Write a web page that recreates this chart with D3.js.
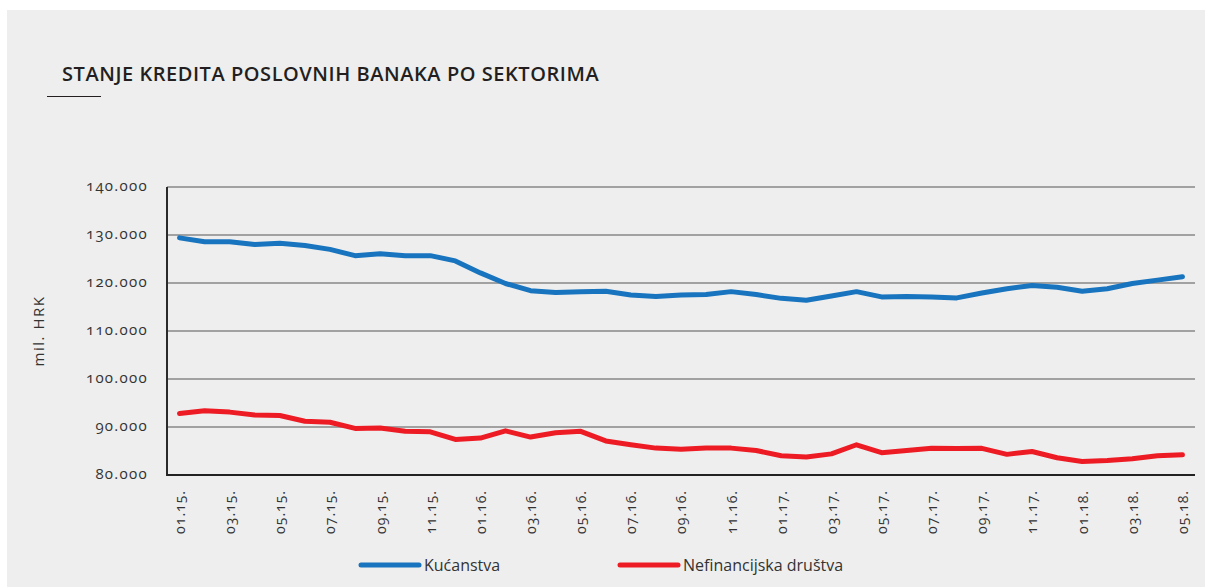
<!DOCTYPE html>
<html>
<head>
<meta charset="utf-8">
<script src="https://cdn.jsdelivr.net/npm/d3@7"></script>
<style>
  html, body { margin: 0; padding: 0; background: #ffffff; }
  svg { display: block; }
  .num { font-feature-settings: "onum" 1; font-variant-numeric: oldstyle-nums; }
</style>
</head>
<body>
<svg id="chart" width="1205" height="587"></svg>
<script>
const categories = ["01.15.","02.15.","03.15.","04.15.","05.15.","06.15.","07.15.","08.15.","09.15.","10.15.","11.15.","12.15.",
  "01.16.","02.16.","03.16.","04.16.","05.16.","06.16.","07.16.","08.16.","09.16.","10.16.","11.16.","12.16.",
  "01.17.","02.17.","03.17.","04.17.","05.17.","06.17.","07.17.","08.17.","09.17.","10.17.","11.17.","12.17.",
  "01.18.","02.18.","03.18.","04.18.","05.18."];
const kucanstva = [129400,128600,128600,128000,128300,127800,127000,125700,126100,125700,125700,124600,
  122100,119900,118400,118000,118200,118300,117500,117200,117500,117600,118200,117600,
  116800,116400,117300,118200,117100,117200,117100,116900,117900,118800,119500,119100,
  118300,118800,119900,120600,121300];
const nefinancijska = [92800,93400,93100,92500,92400,91200,91000,89700,89800,89100,89000,87400,
  87700,89200,87900,88800,89100,87100,86300,85600,85350,85600,85600,85100,
  84000,83750,84400,86300,84650,85100,85550,85500,85550,84300,84900,83600,
  82800,83000,83400,84000,84200];
const yTicks = [80000,90000,100000,110000,120000,130000,140000];
const xTickLabels = categories.filter((d, i) => i % 2 === 0);
const seriesNames = ["Kućanstva", "Nefinancijska društva"];
const seriesColors = ["#1874be", "#ed1c24"];

const svg = d3.select("#chart");
const W = 1205, H = 587;
const L = 167, R = 1195, T = 187, B = 475;
const FONT = "'Open Sans', sans-serif";

svg.append("rect").attr("x", 7).attr("y", 10).attr("width", W - 7).attr("height", H - 10).attr("fill", "#eeeeee");

svg.append("text").attr("x", 62).attr("y", 81)
  .attr("font-family", FONT).attr("font-weight", 600)
  .attr("font-size", 20).attr("letter-spacing", 0.55).attr("fill", "#231f20")
  .text("STANJE KREDITA POSLOVNIH BANAKA PO SEKTORIMA");
svg.append("line").attr("x1", 47).attr("x2", 101).attr("y1", 96.5).attr("y2", 96.5)
  .attr("stroke", "#231f20").attr("stroke-width", 1);

const x = d3.scalePoint().domain(categories).range([L, R]).padding(0.5);
const y = d3.scaleLinear().domain([80000, 140000]).range([B, T]);

// gridlines
svg.append("g").selectAll("line").data(yTicks.filter(d => d !== 80000)).join("line")
  .attr("x1", L).attr("x2", R).attr("y1", d => y(d)).attr("y2", d => y(d))
  .attr("stroke", "#555555").attr("stroke-width", 1.2);

const fmt = v => d3.format(",")(v).replace(/,/g, ".");

const yAxis = svg.append("g").attr("transform", `translate(${L},0)`)
  .call(d3.axisLeft(y).tickValues(yTicks).tickSize(0).tickPadding(19).tickFormat(fmt));
yAxis.select(".domain").remove();
yAxis.selectAll("text").attr("class", "num")
  .attr("font-family", FONT).attr("font-size", 15).attr("letter-spacing", 1.3).attr("fill", "#333333")
  .attr("dy", "0.2em");

// axis lines
svg.append("line").attr("x1", L).attr("x2", L).attr("y1", T).attr("y2", B + 1)
  .attr("stroke", "#2a2a2a").attr("stroke-width", 2);
svg.append("line").attr("x1", L).attr("x2", R).attr("y1", B).attr("y2", B)
  .attr("stroke", "#222222").attr("stroke-width", 2);

const xAxis = svg.append("g").attr("transform", `translate(0,${B})`)
  .call(d3.axisBottom(x).tickValues(xTickLabels).tickSize(0).tickPadding(0));
xAxis.select(".domain").remove();
xAxis.selectAll("text").attr("class", "num")
  .attr("font-family", FONT).attr("font-size", 14).attr("letter-spacing", 1).attr("fill", "#333333")
  .attr("text-anchor", "end").attr("transform", "rotate(-90)")
  .attr("x", -15).attr("y", 0).attr("dy", "0.35em");

svg.append("text").attr("transform", `translate(44,${(T + B) / 2}) rotate(-90)`)
  .attr("text-anchor", "middle").attr("font-family", FONT)
  .attr("font-size", 15).attr("letter-spacing", 1.5).attr("fill", "#333333").text("mil. HRK");

const line = d3.line().x((d, i) => x(categories[i])).y(d => y(d));
[kucanstva, nefinancijska].forEach((s, k) => {
  svg.append("path").datum(s).attr("d", line).attr("fill", "none")
    .attr("stroke", seriesColors[k]).attr("stroke-width", 5)
    .attr("stroke-linejoin", "round").attr("stroke-linecap", "round");
});

// legend
const legendX = [361, 620];
seriesNames.forEach((n, k) => {
  svg.append("line").attr("x1", legendX[k]).attr("x2", legendX[k] + 58).attr("y1", 565).attr("y2", 565)
    .attr("stroke", seriesColors[k]).attr("stroke-width", 5).attr("stroke-linecap", "round");
  svg.append("text").attr("x", legendX[k] + 63).attr("y", 571)
    .attr("font-family", FONT).attr("font-size", 16).attr("fill", "#333333").text(n);
});
</script>
</body>
</html>
